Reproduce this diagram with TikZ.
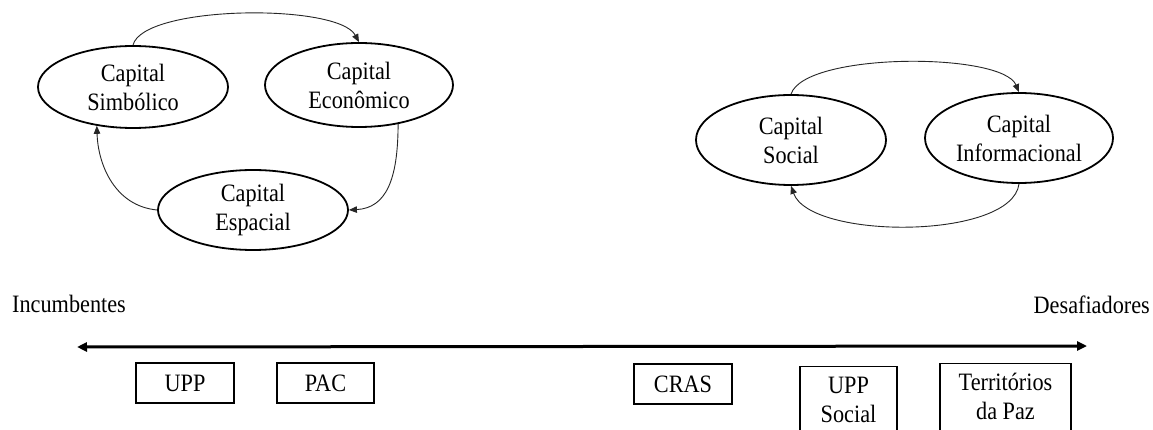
\documentclass[tikz,border=0pt]{standalone}
\usepackage{fontspec}
\setmainfont{Liberation Serif}[FakeStretch=0.89]
\usetikzlibrary{arrows.meta,shapes.geometric}
\begin{document}
\begin{tikzpicture}[x=1pt,y=-1pt,
  every node/.style={font=\fontsize{25}{29}\selectfont, align=center, text=black},
  capbox/.style={draw, ellipse, line width=1.8pt, inner sep=0pt, minimum width=190pt, minimum height=82pt},
  progbox/.style={draw, rectangle, line width=1.3pt, inner sep=0pt, minimum height=40pt},
  tallbox/.style={draw, rectangle, line width=1.3pt, inner xsep=0pt, inner ysep=10pt, anchor=north, text height=46pt, text depth=20pt},
  cyc/.style={line width=0.9pt, draw=black!85, -{Triangle[length=8pt,width=6.5pt]}},
  axis/.style={line width=3pt, {Triangle[length=10pt,width=9pt]}-{Triangle[length=10pt,width=9pt]}}
]
\clip (0,0) rectangle (1153,430);
\fill[white] (0,0) rectangle (1153,430);

% left cycle
\node[capbox] (simb) at (133,87) {Capital\\Simbólico};
\node[capbox, minimum width=188pt, minimum height=84pt] (econ) at (359,85) {Capital\\Econômico};
\node[capbox, minimum height=80pt] (esp) at (253,210) {Capital\\Espacial};

\draw[cyc] (simb.north) .. controls (143,5) and (338,3) .. (econ.north);
\draw[cyc] (econ.-45) .. controls (398,180) and (386,208) .. (esp.east);
\draw[cyc] (esp.west) .. controls (115,206) and (98,165) .. (simb.-133);

% right cycle
\node[capbox, minimum height=90pt] (soc) at (791,140) {Capital\\Social};
\node[capbox, minimum width=188pt, minimum height=90pt] (info) at (1019,138) {Capital\\Informacional};

\draw[cyc] (soc.north) .. controls (805,52) and (1002,52) .. (info.north);
\draw[cyc] (info.south) .. controls (1012,240) and (810,240) .. (soc.south);

% axis
\node[anchor=base west, inner sep=0pt] (inc) at (12,312) {Incumbentes};
\node[anchor=base east, inner sep=0pt] (des) at (1150,313) {Desafiadores};
\coordinate (axL) at (77,347);
\coordinate (axR) at (1087,346);
\draw[axis] (axL) -- (axR);

% programmes
\node[progbox, minimum width=98pt] (upp) at (185,383) {UPP};
\node[progbox, minimum width=97pt] (pac) at (325.5,383) {PAC};
\node[progbox, minimum width=98pt] (cras) at (683,384) {CRAS};
\node[tallbox, minimum width=97pt] (uppsoc) at (848.5,366) {UPP\\Social};
\node[tallbox, minimum width=131pt] (terr) at (1005.5,363) {Territórios\\da Paz};
\end{tikzpicture}
\end{document}
